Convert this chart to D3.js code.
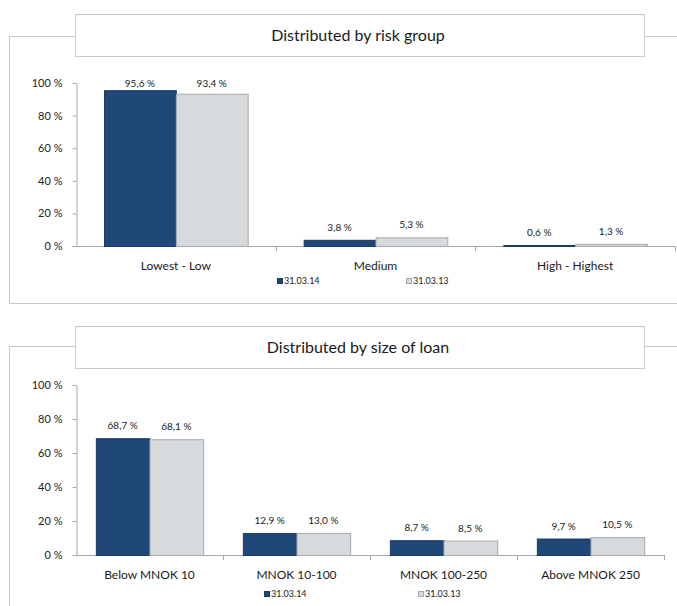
<!DOCTYPE html>
<html>
<head>
<meta charset="utf-8">
<script src="https://cdn.jsdelivr.net/npm/d3@7"></script>
<style>
  body { margin: 0; background: #fff; }
  svg { display: block; font-family: Lato, "Open Sans", sans-serif; }
</style>
</head>
<body>
<svg id="chart" width="677" height="606"></svg>
<script>
// Data
const seriesNames = ['31.03.14', '31.03.13'];
const yTicks = [0, 20, 40, 60, 80, 100];

const riskCategories = ['Lowest - Low', 'Medium', 'High - Highest'];
const risk2014 = [95.6, 3.8, 0.6];
const risk2013 = [93.4, 5.3, 1.3];

const sizeCategories = ['Below MNOK 10', 'MNOK 10-100', 'MNOK 100-250', 'Above MNOK 250'];
const size2014 = [68.7, 12.9, 8.7, 9.7];
const size2013 = [68.1, 13.0, 8.5, 10.5];

const colors = ['#1f4778', '#d6dadd'];
const strokes = ['#183a64', '#a9a9a9'];

const svg = d3.select('#chart');
const fmt = v => d3.format('.1f')(v).replace('.', ',') + ' %';

// Draws one framed panel with its title box, axes, bars and legend
const drawPanel = (cfg) => {

    const g = svg.append('g');

    // Outer frame
    g.append('rect')
        .attr('x', 9.5).attr('y', cfg.frameTop + 0.5)
        .attr('width', 700).attr('height', cfg.frameHeight)
        .attr('fill', 'none').attr('stroke', '#c9c9c9');

    // Title box sits over the frame's top line
    g.append('rect')
        .attr('x', 75.5).attr('y', cfg.titleTop + 0.5)
        .attr('width', 569).attr('height', 42)
        .attr('fill', '#fff').attr('stroke', '#c9c9c9');

    g.append('text')
        .attr('x', 358).attr('y', cfg.titleTop + 27)
        .attr('text-anchor', 'middle')
        .attr('font-size', 16).attr('fill', '#1a1a1a')
        .text(cfg.title);

    const x = d3.scaleBand().domain(cfg.categories).range([76, cfg.xEnd]);
    const inner = d3.scaleBand().domain(seriesNames).range([0, x.bandwidth()])
        .paddingOuter(cfg.outerPad).paddingInner(0);
    const y = d3.scaleLinear().domain([0, 100]).range([cfg.y0, cfg.y100]);

    // Y axis
    const yAxis = g.append('g')
        .attr('transform', 'translate(76.5,0)')
        .call(d3.axisLeft(y).tickValues(yTicks).tickSize(4).tickSizeOuter(0).tickFormat(d => d + ' %'));
    yAxis.select('.domain').attr('stroke', '#a6a6a6');
    yAxis.selectAll('.tick line').attr('stroke', '#a6a6a6');
    yAxis.selectAll('.tick text').attr('font-size', 11).attr('fill', '#222')
        .attr('x', -14).attr('font-family', 'Lato, sans-serif');

    // X axis line with category boundary ticks
    g.append('line')
        .attr('x1', 76).attr('x2', cfg.xEnd)
        .attr('y1', cfg.y0 + 0.5).attr('y2', cfg.y0 + 0.5)
        .attr('stroke', '#a6a6a6');
    g.selectAll('.xtick').data(cfg.categories)
        .join('line')
        .attr('x1', (d, i) => Math.round(76 + x.step() * (i + 1)) + 0.5)
        .attr('x2', (d, i) => Math.round(76 + x.step() * (i + 1)) + 0.5)
        .attr('y1', cfg.y0).attr('y2', cfg.y0 + 5)
        .attr('stroke', '#a6a6a6');

    // Category labels
    g.selectAll('.cat').data(cfg.categories).join('text')
        .attr('x', d => x(d) + x.bandwidth() / 2)
        .attr('y', cfg.y0 + 24)
        .attr('text-anchor', 'middle')
        .attr('font-size', 12).attr('fill', '#1a1a1a')
        .text(d => d);

    // Bars
    cfg.values.forEach((vals, s) => {

        g.selectAll('.bar' + s).data(vals).join('rect')
            .attr('x', (d, i) => x(cfg.categories[i]) + inner(seriesNames[s]) + 0.5)
            .attr('y', d => y(d) + 0.5)
            .attr('width', inner.bandwidth())
            .attr('height', d => Math.max(cfg.y0 - y(d), 0.5))
            .attr('fill', colors[s])
            .attr('stroke', strokes[s]);

        // Labels stay inside the plot area, as the original does near 100 %
        g.selectAll('.lab' + s).data(vals).join('text')
            .attr('x', (d, i) => x(cfg.categories[i]) + inner(seriesNames[s]) + inner.bandwidth() / 2)
            .attr('y', d => Math.max(y(d) - 9, cfg.y100 + 4))
            .attr('text-anchor', 'middle')
            .attr('font-size', 10).attr('fill', '#1a1a1a')
            .text(d => fmt(d));

    });

    // Legend
    cfg.legendX.forEach((lx, s) => {
        g.append('rect')
            .attr('x', lx + 0.5).attr('y', cfg.legendY - 5.5)
            .attr('width', 5).attr('height', 5)
            .attr('fill', colors[s]).attr('stroke', strokes[s]);
        g.append('text')
            .attr('x', lx + 7).attr('y', cfg.legendY)
            .attr('font-size', 9).attr('fill', '#1a1a1a')
            .text(seriesNames[s]);
    });

};

drawPanel({
    title: 'Distributed by risk group',
    frameTop: 36, frameHeight: 267, titleTop: 14,
    categories: riskCategories, values: [risk2014, risk2013],
    xEnd: 675, outerPad: 0.39,
    y0: 246, y100: 83,
    legendX: [277, 406], legendY: 284
});

drawPanel({
    title: 'Distributed by size of loan',
    frameTop: 346, frameHeight: 300, titleTop: 326,
    categories: sizeCategories, values: [size2014, size2013],
    xEnd: 664, outerPad: 0.37,
    y0: 555, y100: 385,
    legendX: [264, 418], legendY: 597
});
</script>
</body>
</html>
